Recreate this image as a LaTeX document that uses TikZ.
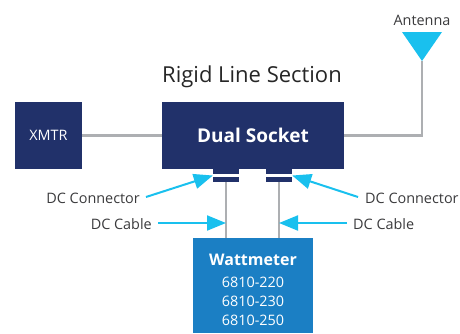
\documentclass[tikz,border=0pt]{standalone}
\usepackage{fontspec}
\setmainfont{Open Sans}
\usetikzlibrary{arrows.meta, shapes.geometric}
\definecolor{navy}{HTML}{21316A}
\definecolor{wattblue}{HTML}{1B7FC4}
\definecolor{skyblue}{HTML}{19C0EE}
\definecolor{linegray}{HTML}{ADAFB2}
\definecolor{labelgray}{HTML}{3A3A3C}
\tikzset{
  navybox/.style = {rectangle, draw=none, fill=navy, inner sep=0pt, text=white, align=center},
  connbox/.style = {navybox, minimum width=26pt, minimum height=13pt},
  stripe/.style = {rectangle, fill=white, draw=none, inner sep=0pt, minimum width=26pt, minimum height=2.6pt},
  label/.style = {inner sep=0pt, text=labelgray, font=\fontsize{14.4}{16}\selectfont},
  cable/.style = {draw=linegray, line width=2.4pt},
  pointer/.style = {draw=skyblue, line width=2pt, -{Triangle[length=19pt,width=15pt]}}
}
\begin{document}
\begin{tikzpicture}[x=1pt, y=-1pt]
    \useasboundingbox (0,0) rectangle (460,333);
    % boxes
    \node[navybox, minimum width=67pt, minimum height=67pt, font=\fontsize{14.4}{16}\selectfont] (xmtr) at (48.5,135.5) {XMTR};
    \node[navybox, minimum width=182pt, minimum height=67pt, font=\fontsize{19}{22}\selectfont\bfseries] (dual) at (253,135.5) {Dual Socket};
    \node[rectangle, fill=wattblue, text=white, inner sep=0pt, minimum width=120pt, minimum height=95pt, align=center, font=\fontsize{14.4}{19}\selectfont] (watt) at (253,285.5) {\rule{0pt}{20pt}{\fontsize{16}{19}\selectfont\bfseries Wattmeter}\\[3.5pt]
      6810-220\\6810-230\\6810-250};
    \node[inner sep=0pt, text=black!85, font=\fontsize{22}{26}\selectfont] (title) at (252,77) {Rigid Line Section};
    % connectors
    \node[connbox] (connl) at (226,175.5) {};
    \node[connbox] (connr) at (279,175.5) {};
    \node[stripe] (stripel) at (226,175.3) {};
    \node[stripe] (striper) at (279,175.3) {};
    % antenna
    \node[label] (antlabel) at (422,20) {Antenna};
    \coordinate (antl) at (402,32);
    \coordinate (antr) at (442,32);
    \coordinate (anttip) at (422,61);
    \coordinate (antcorner) at (422,135.5);
    \draw[cable] (xmtr.east) -- (dual.west);
    \draw[cable] (dual.east) -- (antcorner) -- (anttip);
    \fill[skyblue] (antl) -- (antr) -- (anttip) -- cycle;
    \draw[cable] (connl.south) -- (connl.south |- watt.north);
    \draw[cable] (connr.south) -- (connr.south |- watt.north);
    % labels
    \node[label, anchor=east] (dcl) at (140,198) {DC Connector};
    \node[label, anchor=west] (dcr) at (365,198) {DC Connector};
    \node[label, anchor=east] (cablel) at (152,224) {DC Cable};
    \node[label, anchor=west] (cabler) at (353,224) {DC Cable};
    \coordinate (hitl) at (226,223);
    \coordinate (hitr) at (279,223);
    \coordinate (startl) at (146,197);
    \coordinate (startr) at (358,197);
    \coordinate (startcl) at (158,223);
    \coordinate (startcr) at (347,223);
    \draw[pointer] (startl) -- (connl.west);
    \draw[pointer] (startr) -- (connr.east);
    \draw[pointer] (startcl) -- (hitl);
    \draw[pointer] (startcr) -- (hitr);
\end{tikzpicture}
\end{document}
